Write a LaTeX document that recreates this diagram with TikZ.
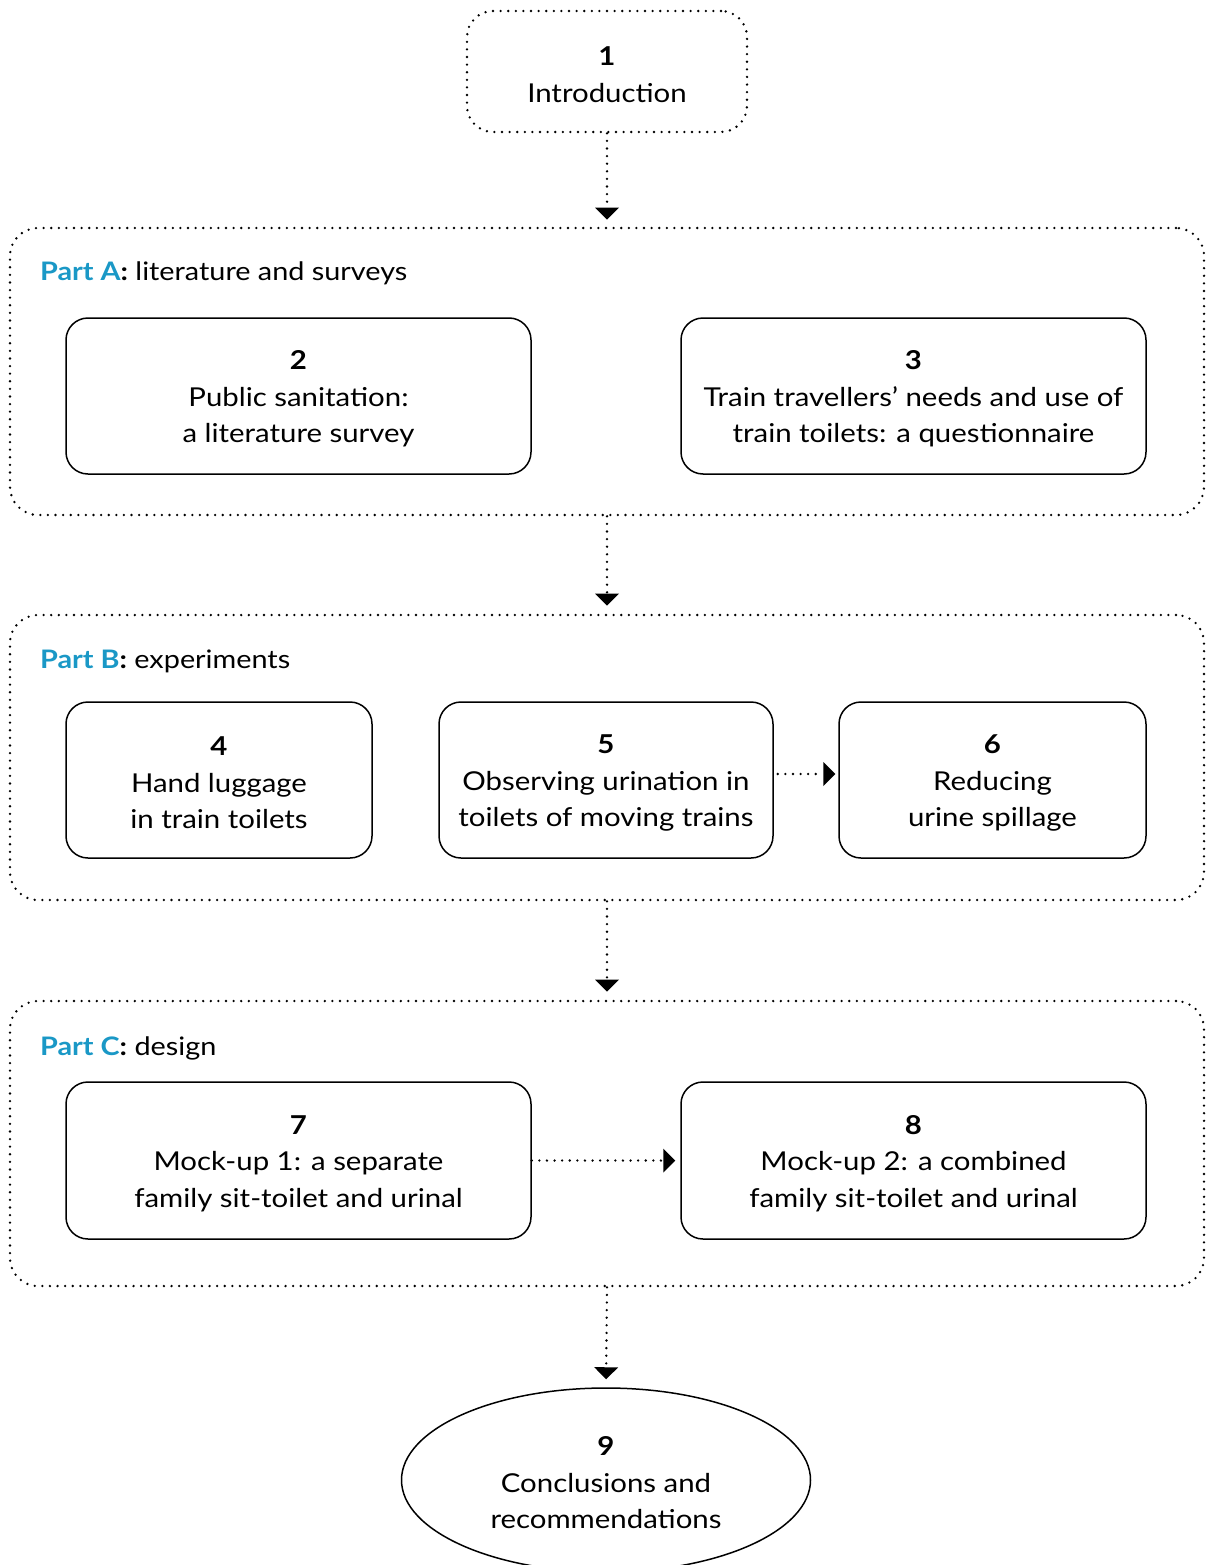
\documentclass[tikz,border=0pt]{standalone}
\usepackage{fontspec}
\setmainfont[FakeStretch=1.13]{Lato}
\usetikzlibrary{arrows.meta,shapes.geometric}
\definecolor{partblue}{HTML}{1A98C6}
% raises the first line so the text block sits a little lower in its box
\newcommand\firststrut{\rule{0pt}{25pt}}

\begin{document}
\begin{tikzpicture}[x=1pt,y=-1pt,
  font=\fontsize{26}{36.5}\selectfont,
  dotline/.style={line width=2.6pt, dash pattern=on 0pt off 7.6pt, line cap=round},
  chapter/.style={draw, line width=1.5pt, rounded corners=22pt, align=center, inner sep=0pt},
  dotchapter/.style={dotline, rounded corners=26pt, align=center, inner sep=0pt},
  part/.style={draw, dotline, rounded corners=28pt, inner sep=0pt},
  parttitle/.style={anchor=base west, inner sep=0pt, font=\fontsize{25.5}{31}\selectfont},
  flow/.style={dotline, -{Triangle[width=24pt,length=12pt,line width=0pt]}},
]
\useasboundingbox (0,0) rectangle (1210,1565);

% chapter 1
\node[draw, dotchapter, minimum width=280, minimum height=121] (c1) at (607,71.5)
  {\firststrut\textbf{1}\\Introduction};

% part containers
\node[part, minimum width=1194, minimum height=287] (pa) at (607,371.5) {};
\node[part, minimum width=1194, minimum height=285] (pb) at (607,757.5) {};
\node[part, minimum width=1194, minimum height=285] (pc) at (607,1143.5) {};

\node[parttitle] (ta) at (40,280) {\textcolor{partblue}{\bfseries Part A}\textbf{:} literature and surveys};
\node[parttitle] (tb) at (40,668) {\textcolor{partblue}{\bfseries Part B}\textbf{:} experiments};
\node[parttitle] (tc) at (40,1055) {\textcolor{partblue}{\bfseries Part C}\textbf{:} design};

% Part A chapters
\node[chapter, minimum width=465, minimum height=156] (c2) at (298.5,396)
  {\firststrut\textbf{2}\\Public sanitation:\\a literature survey};
\node[chapter, minimum width=465, minimum height=156] (c3) at (913.5,396)
  {\firststrut\textbf{3}\\Train travellers’ needs and use of\\train toilets: a questionnaire};

% Part B chapters
\node[chapter, minimum width=306, minimum height=156] (c4) at (219,780)
  {\firststrut\textbf{4}\\Hand luggage\\in train toilets};
\node[chapter, minimum width=334, minimum height=156] (c5) at (606,780)
  {\firststrut\textbf{5}\\Observing urination in\\toilets of moving trains};
\node[chapter, minimum width=307, minimum height=156] (c6) at (992.5,780)
  {\firststrut\textbf{6}\\Reducing\\urine spillage};

% Part C chapters
\node[chapter, minimum width=465, minimum height=157] (c7) at (298.5,1160.5)
  {\firststrut\textbf{7}\\Mock-up 1: a separate\\family sit-toilet and urinal};
\node[chapter, minimum width=465, minimum height=157] (c8) at (913.5,1160.5)
  {\firststrut\textbf{8}\\Mock-up 2: a combined\\family sit-toilet and urinal};

% chapter 9
\node[draw, line width=1.5pt, ellipse, minimum width=409, minimum height=184, inner sep=0pt, align=center] (c9) at (606,1480)
  {\firststrut\textbf{9}\\Conclusions and\\recommendations};

% connectors
\draw[flow, shorten >=7pt] (c1.south) -- (pa.north);
\draw[flow, shorten >=8pt] (pa.south) -- (pb.north);
\draw[flow, shorten >=8pt] (pb.south) -- (pc.north);
\draw[flow, shorten >=8pt] (pc.south) -- (c9.north);
\draw[flow, shorten <=4pt, shorten >=3pt] (c5.east |- 0,774) -- (c6.west |- 0,774);
\draw[flow, shorten >=5pt] (c7.east) -- (c8.west);
\end{tikzpicture}
\end{document}
